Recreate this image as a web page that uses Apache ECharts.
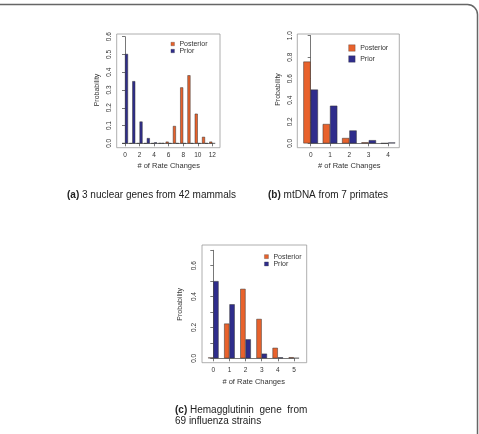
<!DOCTYPE html>
<html>
<head>
<meta charset="utf-8">
<script src="https://cdn.jsdelivr.net/npm/echarts@6/dist/echarts.min.js"></script>
<style>
  html, body { margin: 0; padding: 0; background: #fff; }
  #chart { width: 479px; height: 434px; }
</style>
</head>
<body>
<div id="chart"></div>
<script>
// (a) 3 nuclear genes from 42 mammals
var changesA = [0, 1, 2, 3, 4, 5, 6, 7, 8, 9, 10, 11, 12]
var posteriorA = [0.001, 0.001, 0.001, 0.001, 0.001, 0.002, 0.01, 0.098, 0.315, 0.383, 0.167, 0.037, 0.01]
var priorA = [0.503, 0.35, 0.123, 0.03, 0.006, 0.002, 0.001, 0.001, 0.001, 0.001, 0.001, 0.001, 0.001]
// (b) mtDNA from 7 primates
var changesB = [0, 1, 2, 3, 4]
var posteriorB = [0.76, 0.18, 0.05, 0.01, 0.002]
var priorB = [0.5, 0.35, 0.12, 0.03, 0.008]
// (c) Hemagglutinin gene from 69 influenza strains
var changesC = [0, 1, 2, 3, 4, 5]
var posteriorC = [0.005, 0.225, 0.45, 0.255, 0.068, 0.007]
var priorC = [0.5, 0.35, 0.123, 0.03, 0.006, 0.002]

var FONT = '"Liberation Sans", Arial, Helvetica, sans-serif'
var ORANGE = '#E8622C'
var BLUE = '#2F2D8C'

function pairs(xs, ys) {
  return xs.map(function (x, i) { return [x, ys[i]] })
}

function boxAxis(grid, min, max) {
  return { type: 'value', gridIndex: grid, min: min, max: max, show: false }
}

function tickAxisX(grid, max, interval, offset, gap) {
  return {
    type: 'value', gridIndex: grid, min: 0, max: max, interval: interval,
    position: 'bottom', offset: offset,
    name: '# of Rate Changes', nameLocation: 'middle', nameGap: gap,
    nameTextStyle: { fontFamily: FONT, fontSize: 7.5, color: '#333', verticalAlign: 'top' },
    axisLine: { show: true, lineStyle: { color: '#555', width: 0.8 } },
    axisTick: { show: true, length: 3, lineStyle: { color: '#555', width: 0.8 } },
    axisLabel: { fontFamily: FONT, fontSize: 6.5, color: '#333', margin: 4 },
    splitLine: { show: false }
  }
}

function tickAxisY(grid, max, interval, offset, gap, every) {
  return {
    type: 'value', gridIndex: grid, min: 0, max: max, interval: interval,
    position: 'left', offset: offset,
    name: 'Probability', nameLocation: 'middle', nameGap: gap, nameRotate: 90,
    nameTextStyle: { fontFamily: FONT, fontSize: 7, color: '#333' },
    axisLine: { show: true, lineStyle: { color: '#555', width: 0.8 } },
    axisTick: { show: true, length: 3, lineStyle: { color: '#555', width: 0.8 } },
    axisLabel: {
      fontFamily: FONT, fontSize: 6.5, color: '#333', margin: 4, rotate: 90,
      formatter: function (v) {
        var k = Math.round(v / interval)
        return k % every === 0 ? v.toFixed(1) : ''
      }
    },
    splitLine: { show: false }
  }
}

function bars(name, color, axis, data, width) {
  return {
    name: name, type: 'bar', xAxisIndex: axis, yAxisIndex: axis,
    data: data, barWidth: width, barGap: '0%',
    itemStyle: { color: color, borderColor: '#333', borderWidth: 0.5 },
    animation: false
  }
}

function legend(left, top, size, row) {
  return {
    data: ['Posterior', 'Prior'], orient: 'vertical', left: left, top: top,
    padding: 0, itemGap: 0, itemWidth: size, itemHeight: size, icon: 'rect',
    selectedMode: false,
    itemStyle: { borderWidth: 0.3, borderColor: '#333' },
    textStyle: { fontFamily: FONT, fontSize: 7, color: '#333', lineHeight: row }
  }
}

function caption(text, left, top) {
  return {
    text: text, left: left, top: top, padding: 0,
    textStyle: { fontFamily: FONT, fontSize: 10, fontWeight: 'normal', color: '#222',
      rich: { b: { fontFamily: FONT, fontSize: 10, fontWeight: 'bold', color: '#222' } } }
  }
}

var chart = echarts.init(document.getElementById('chart'))
chart.setOption({
  backgroundColor: '#fff',
  animation: false,
  title: [
    caption('{b|(a)} 3 nuclear genes from 42 mammals', 67, 190.5),
    caption('{b|(b)} mtDNA from 7 primates', 268, 190.5),
    caption('{b|(c)} Hemagglutinin  gene  from', 175, 405.5),
    caption('69 influenza strains', 175, 416.5)
  ],
  legend: [
    legend(170.8, 40.5, 3.5, 7),
    legend(348.5, 42.5, 6.5, 11),
    legend(264.3, 253, 4, 7.3)
  ],
  grid: [
    { left: 116.7, top: 34, width: 103.3, height: 113.7, show: true, borderColor: '#999', borderWidth: 0.8 },
    { left: 125, top: 36.7, width: 87.3, height: 106.6 },
    { left: 297.3, top: 34, width: 102, height: 113.7, show: true, borderColor: '#999', borderWidth: 0.8 },
    { left: 310.7, top: 35.7, width: 77.3, height: 107.6 },
    { left: 202, top: 245, width: 104.7, height: 117.7, show: true, borderColor: '#999', borderWidth: 0.8 },
    { left: 213.3, top: 250.3, width: 80.7, height: 108 }
  ],
  xAxis: [
    boxAxis(0, -1.14, 13.06),
    tickAxisX(1, 12, 2, 4.4, 14.5),
    boxAxis(2, -0.69, 4.58),
    tickAxisX(3, 4, 1, 4.4, 14.5),
    boxAxis(4, -0.7, 5.79),
    tickAxisX(5, 5, 1, 4.4, 15.3)
  ],
  yAxis: [
    boxAxis(0, -0.024, 0.615),
    tickAxisY(1, 0.6, 0.1, 8.3, 16, 1),
    boxAxis(2, -0.04, 1.016),
    tickAxisY(3, 1, 0.2, 13.4, 15.3, 1),
    boxAxis(4, -0.0285, 0.734),
    tickAxisY(5, 0.7, 0.1, 11.3, 18, 2)
  ],
  series: [
    bars('Posterior', ORANGE, 0, pairs(changesA, posteriorA), 3),
    bars('Prior', BLUE, 0, pairs(changesA, priorA), 3),
    bars('Posterior', ORANGE, 2, pairs(changesB, posteriorB), 7.3),
    bars('Prior', BLUE, 2, pairs(changesB, priorB), 7.3),
    bars('Posterior', ORANGE, 4, pairs(changesC, posteriorC), 5.3),
    bars('Prior', BLUE, 4, pairs(changesC, priorC), 5.3)
  ],
  graphic: [
    { type: 'rect', silent: true, z: 100,
      shape: { x: -30, y: 4.5, width: 507.5, height: 480, r: 10 },
      style: { fill: 'none', stroke: '#666', lineWidth: 1.5 } }
  ]
})
</script>
</body>
</html>
